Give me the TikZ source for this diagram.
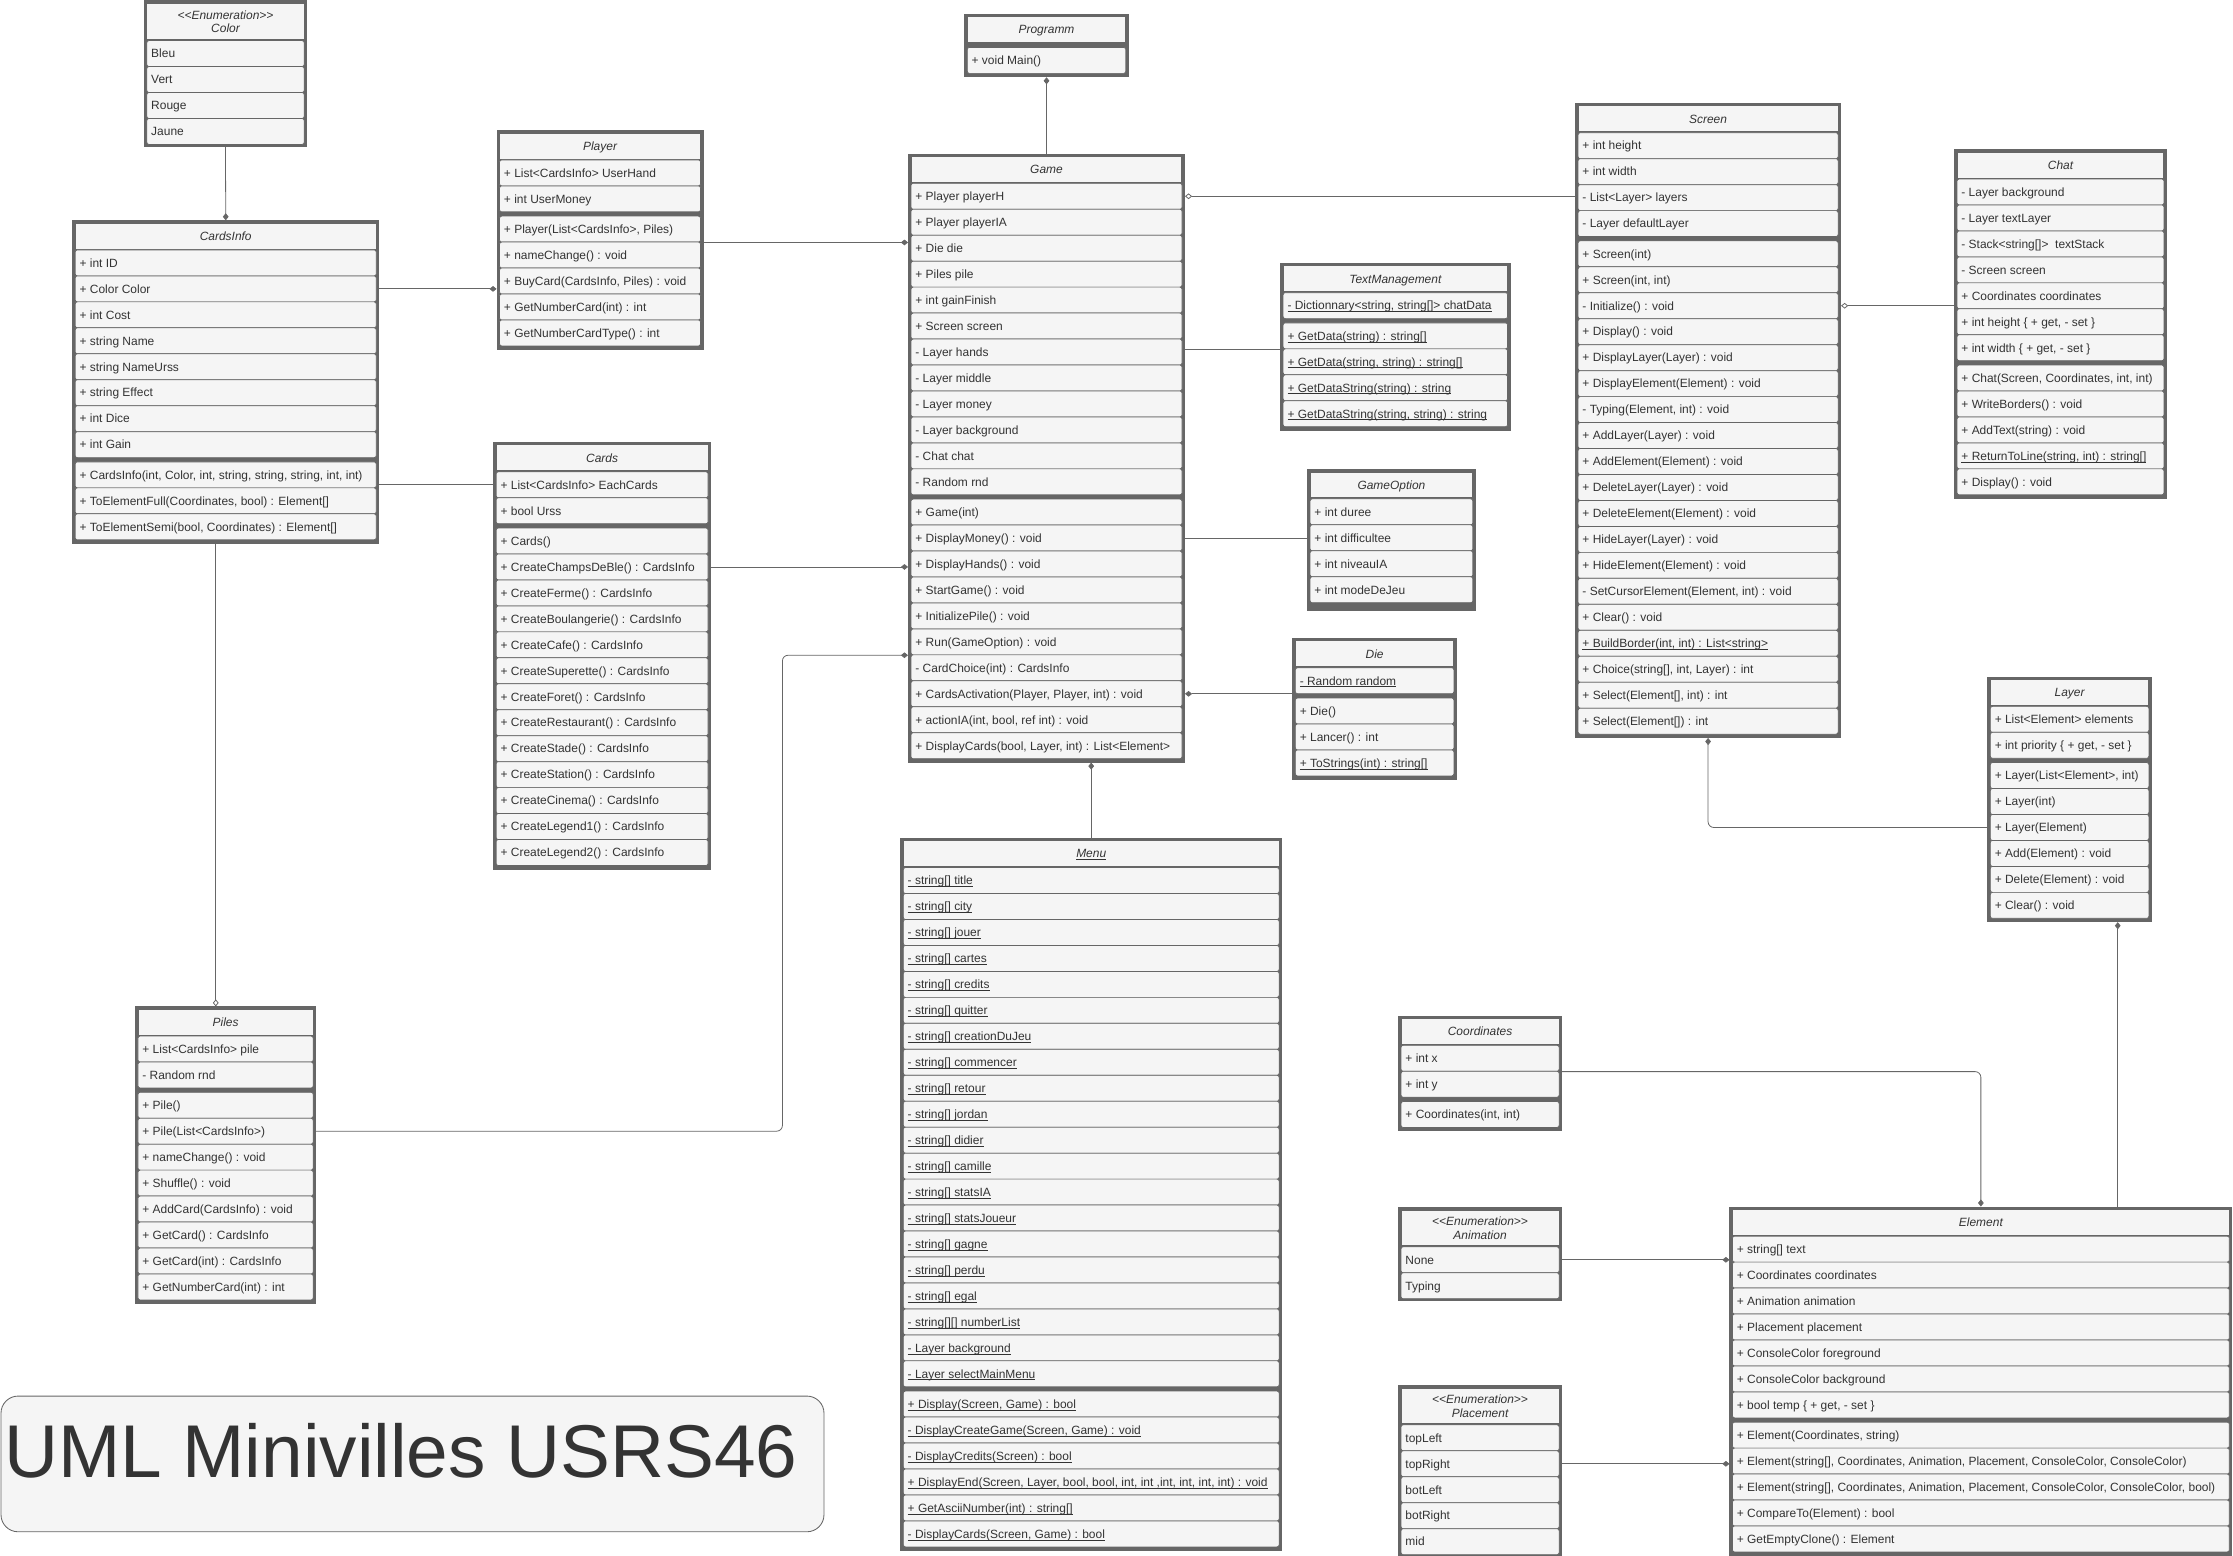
\documentclass[tikz,border=0pt]{standalone}
\usepackage{fontspec}
\setmainfont{Liberation Sans}
\usepackage{tikz}
\usetikzlibrary{arrows.meta}

\definecolor{umlgray}{HTML}{666666}
\definecolor{umlfill}{HTML}{F5F5F5}
\definecolor{umltext}{HTML}{333333}

\newcommand\umlfont{\fontsize{8.4}{9.6}\selectfont}
\newsavebox\statbox
\newcommand\stat[1]{\sbox\statbox{#1}\rlap{\rule[-1.4pt]{\wd\statbox}{0.45pt}}\usebox\statbox}
\newcommand\stereo[1]{<\kern0pt<#1>\kern0pt>}

\newcommand\umlclass[7]{%
  \pgfmathsetmacro\cx{#2+#4/2}%
  \pgfmathsetmacro\tw{#4-9.8}%
  \gdef\na{0}\gdef\nm{0}%
  \if\relax\detokenize{#6}\relax\else\foreach \rowtext [count=\i] in {#6} {\xdef\na{\i}}\fi
  \if\relax\detokenize{#7}\relax\else\foreach \rowtext [count=\i] in {#7} {\xdef\nm{\i}}\fi
  \pgfmathsetmacro\hb{25.9+(\na+\nm)*18.23}%
  \node[classbox, minimum width=#4, minimum height=\hb] (#1) at (\cx, {#3+\hb/2}) {};
  \node[headbox, minimum width=#4-4.4, minimum height=17.5, text height=6pt, text depth=0pt] (#1-h) at (\cx, {#3+10.75}) {#5};
  \if\relax\detokenize{#6}\relax\else
  \foreach \rowtext [count=\i] in {#6} {
    \node[rowbox, minimum width=#4-3.6] (#1-a\i) at (\cx, {#3+20.5+(\i-0.5)*18.23}) {\makebox[\tw pt][l]{\rowtext}};
  }\fi
  \if\relax\detokenize{#7}\relax\else
  \foreach \rowtext [count=\i] in {#7} {
    \node[rowbox, minimum width=#4-3.6] (#1-m\i) at (\cx, {#3+23.5+(\na+\i-0.5)*18.23}) {\makebox[\tw pt][l]{\rowtext}};
  }\fi
}

\newcommand\umlenum[6]{%
  \pgfmathsetmacro\cx{#2+#4/2}%
  \pgfmathsetmacro\tw{#4-9.8}%
  \foreach \rowtext [count=\i] in {#6} {\xdef\na{\i}}%
  \pgfmathsetmacro\hb{29.5+\na*18.23}%
  \node[classbox, minimum width=#4, minimum height=\hb] (#1) at (\cx, {#3+\hb/2}) {};
  \node[headbox, minimum width=#4-4.4, minimum height=24.5, align=center, text depth=0pt] (#1-h) at (\cx, {#3+14.8}) {\stereo{Enumeration}\\#5};
  \foreach \rowtext [count=\i] in {#6} {
    \node[rowbox, minimum width=#4-3.6] (#1-\i) at (\cx, {#3+28+(\i-0.5)*18.23}) {\makebox[\tw pt][l]{\rowtext}};
  }
}

\begin{document}
\begin{tikzpicture}[x=1pt, y=-1pt, font=\umlfont,
  classbox/.style={draw=umlgray, fill=umlgray, line width=0.6pt, inner sep=0pt},
  headbox/.style={fill=umlfill, inner sep=0pt, text=umltext, font=\umlfont\itshape},
  rowbox/.style={draw=umlgray, fill=umlfill, line width=0.5pt, rounded corners=1.5pt, minimum height=18.23pt, inner xsep=3.1pt, inner ysep=0pt, text height=6pt, text depth=0pt, text=umltext},
  titlebox/.style={draw=umlgray, fill=umlfill, line width=0.6pt, rounded corners=12pt},
  assoc/.style={draw=umlgray, line width=0.55pt},
  comp start/.style={{Diamond[length=5pt,width=4pt]}-},
  comp end/.style={-{Diamond[length=5pt,width=4pt]}},
  aggr start/.style={{Diamond[length=5pt,width=4pt,fill=white]}-},
  aggr end/.style={-{Diamond[length=5pt,width=4pt,fill=white]}}]
	\useasboundingbox (0,0) rectangle (1568,1092.6);
	\umlenum{color}{101.3}{0.5}{114.1}{Color}{Bleu,Vert,Rouge,Jaune}
	\umlclass{cardsinfo}{51}{155}{215}{CardsInfo}
	  {{+ int ID},{+ Color Color},{+ int Cost},{+ string Name},{+ string NameUrss},{+ string Effect},{+ int Dice},{+ int Gain}}
	  {{+ CardsInfo(int, Color, int, string, string, string, int, int)},{+ ToElementFull(Coordinates, bool) : Element[]},{+ ToElementSemi(bool, Coordinates) : Element[]}}
	\umlclass{player}{349}{91.8}{144.7}{Player}
	  {{+ List<CardsInfo> UserHand},{+ int UserMoney}}
	  {{+ Player(List<CardsInfo>, Piles)},{+ nameChange() : void},{+ BuyCard(CardsInfo, Piles) : void},{+ GetNumberCard(int) : int},{+ GetNumberCardType() : int}}
	\umlclass{cards}{346.6}{310.8}{152.4}{Cards}
	  {{+ List<CardsInfo> EachCards},{+ bool Urss}}
	  {{+ Cards()},{+ CreateChampsDeBle() : CardsInfo},{+ CreateFerme() : CardsInfo},{+ CreateBoulangerie() : CardsInfo},{+ CreateCafe() : CardsInfo},{+ CreateSuperette() : CardsInfo},{+ CreateForet() : CardsInfo},{+ CreateRestaurant() : CardsInfo},{+ CreateStade() : CardsInfo},{+ CreateStation() : CardsInfo},{+ CreateCinema() : CardsInfo},{+ CreateLegend1() : CardsInfo},{+ CreateLegend2() : CardsInfo}}
	\umlclass{piles}{95.1}{707}{126.6}{Piles}
	  {{+ List<CardsInfo> pile},{- Random rnd}}
	  {{+ Pile()},{+ Pile(List<CardsInfo>)},{+ nameChange() : void},{+ Shuffle() : void},{+ AddCard(CardsInfo) : void},{+ GetCard() : CardsInfo},{+ GetCard(int) : CardsInfo},{+ GetNumberCard(int) : int}}
	\umlclass{programm}{677.4}{9.8}{114.9}{Programm}{}{{+ void Main()}}
	\umlclass{game}{637.9}{108.2}{193.9}{Game}
	  {{+ Player playerH},{+ Player playerIA},{+ Die die},{+ Piles pile},{+ int gainFinish},{+ Screen screen},{- Layer hands},{- Layer middle},{- Layer money},{- Layer background},{- Chat chat},{- Random rnd}}
	  {{+ Game(int)},{+ DisplayMoney() : void},{+ DisplayHands() : void},{+ StartGame() : void},{+ InitializePile() : void},{+ Run(GameOption) : void},{- CardChoice(int) : CardsInfo},{+ CardsActivation(Player, Player, int) : void},{+ actionIA(int, bool, ref int) : void},{+ DisplayCards(bool, Layer, int) : List<Element>}}
	\umlclass{menu}{632.5}{588.7}{267.5}{\stat{Menu}}
	  {{\stat{- string[] title}},{\stat{- string[] city}},{\stat{- string[] jouer}},{\stat{- string[] cartes}},{\stat{- string[] credits}},{\stat{- string[] quitter}},{\stat{- string[] creationDuJeu}},{\stat{- string[] commencer}},{\stat{- string[] retour}},{\stat{- string[] jordan}},{\stat{- string[] didier}},{\stat{- string[] camille}},{\stat{- string[] statsIA}},{\stat{- string[] statsJoueur}},{\stat{- string[] gagne}},{\stat{- string[] perdu}},{\stat{- string[] egal}},{\stat{- string[][] numberList}},{\stat{- Layer background}},{\stat{- Layer selectMainMenu}}}
	  {{\stat{+ Display(Screen, Game) : bool}},{\stat{- DisplayCreateGame(Screen, Game) : void}},{\stat{- DisplayCredits(Screen) : bool}},{\stat{+ DisplayEnd(Screen, Layer, bool, bool, int, int ,int, int, int, int) : void}},{\stat{+ GetAsciiNumber(int) : string[]}},{\stat{- DisplayCards(Screen, Game) : bool}}}
	\umlclass{textmgmt}{899.2}{185}{161.2}{TextManagement}
	  {{\stat{- Dictionnary<string, string[]> chatData}}}
	  {{\stat{+ GetData(string) : string[]}},{\stat{+ GetData(string, string) : string[]}},{\stat{+ GetDataString(string) : string}},{\stat{+ GetDataString(string, string) : string}}}
	\umlclass{gameopt}{918.1}{329.8}{117.9}{GameOption}
	  {{+ int duree},{+ int difficultee},{+ int niveauIA},{+ int modeDeJeu}}{}
	\umlclass{die}{907.8}{448.4}{114.9}{Die}
	  {{\stat{- Random random}}}
	  {{+ Die()},{+ Lancer() : int},{\stat{+ ToStrings(int) : string[]}}}
	\umlclass{screen}{1106.3}{72.7}{186.2}{Screen}
	  {{+ int height},{+ int width},{- List<Layer> layers},{- Layer defaultLayer}}
	  {{+ Screen(int)},{+ Screen(int, int)},{- Initialize() : void},{+ Display() : void},{+ DisplayLayer(Layer) : void},{+ DisplayElement(Element) : void},{- Typing(Element, int) : void},{+ AddLayer(Layer) : void},{+ AddElement(Element) : void},{+ DeleteLayer(Layer) : void},{+ DeleteElement(Element) : void},{+ HideLayer(Layer) : void},{+ HideElement(Element) : void},{- SetCursorElement(Element, int) : void},{+ Clear() : void},{\stat{+ BuildBorder(int, int) : List<string>}},{+ Choice(string[], int, Layer) : int},{+ Select(Element[], int) : int},{+ Select(Element[]) : int}}
	\umlclass{chat}{1372.4}{105.2}{148.9}{Chat}
	  {{- Layer background},{- Layer textLayer},{- Stack<string[]>\ \ textStack},{- Screen screen},{+ Coordinates coordinates},{+ int height \{ + get, - set \}},{+ int width \{ + get, - set \}}}
	  {{+ Chat(Screen, Coordinates, int, int)},{+ WriteBorders() : void},{+ AddText(string) : void},{\stat{+ ReturnToLine(string, int) : string[]}},{+ Display() : void}}
	\umlclass{layer}{1395.8}{475.5}{114.9}{Layer}
	  {{+ List<Element> elements},{+ int priority \{ + get, - set \}}}
	  {{+ Layer(List<Element>, int)},{+ Layer(int)},{+ Layer(Element)},{+ Add(Element) : void},{+ Delete(Element) : void},{+ Clear() : void}}
	\umlclass{coords}{982}{713.5}{114.6}{Coordinates}
	  {{+ int x},{+ int y}}
	  {{+ Coordinates(int, int)}}
	\umlenum{anim}{982}{847.5}{114.6}{Animation}{None,Typing}
	\umlenum{place}{982}{972.5}{114.6}{Placement}{topLeft,topRight,botLeft,botRight,mid}
	\umlclass{element}{1214.7}{847.5}{352.5}{Element}
	  {{+ string[] text},{+ Coordinates coordinates},{+ Animation animation},{+ Placement placement},{+ ConsoleColor foreground},{+ ConsoleColor background},{+ bool temp \{ + get, - set \}}}
	  {{+ Element(Coordinates, string)},{+ Element(string[], Coordinates, Animation, Placement, ConsoleColor, ConsoleColor)},{+ Element(string[], Coordinates, Animation, Placement, ConsoleColor, ConsoleColor, bool)},{+ CompareTo(Element) : bool},{+ GetEmptyClone() : Element}}
	\node[titlebox, minimum width=577.9, minimum height=95.3] (titlebox) at (289.65,1027.95) {};
	\node[anchor=base west, inner sep=0pt, text=umltext, font=\fontsize{52.5}{60}\selectfont] (title) at (2.7,1037.6) {UML Minivilles USRS46};
	\coordinate (pbend) at (549.4,600);
	\draw[assoc, comp end] (color.south) -- (cardsinfo.north);
	\draw[assoc, comp end] (cardsinfo-a2.east -| cardsinfo.east) -- (cardsinfo-a2.east -| player.west);
	\draw[assoc] (cards-a1.west -| cards.west) -- (cards-a1.west -| cardsinfo.east);
	\draw[assoc, aggr end] ([xshift=-7pt]cardsinfo.south) -- ([xshift=-7pt]cardsinfo.south |- piles.north);
	\draw[assoc, comp end] (player-m1.south -| player.east) -- (player-m1.south -| game.west);
	\draw[assoc, comp end] (cards-m2.east -| cards.east) -- (cards-m2.east -| game.west);
	\draw[assoc, comp end, rounded corners=4pt] (piles-m2.east -| piles.east) -| (pbend) |- (game-m6.south -| game.west);
	\draw[assoc, comp start] (programm.south) -- (game.north);
	\draw[assoc, aggr start] (game-a1.east -| game.east) -- (game-a1.east -| screen.west);
	\draw[assoc] (textmgmt-m1.south -| textmgmt.west) -- (textmgmt-m1.south -| game.east);
	\draw[assoc] (game-m2.east -| game.east) -- (game-m2.east -| gameopt.west);
	\draw[assoc, comp start] (game-m8.east -| game.east) -- (game-m8.east -| die.west);
	\draw[assoc, comp start] (game.south -| menu.north) -- (menu.north);
	\draw[assoc, aggr start] (screen-m3.east -| screen.east) -- (screen-m3.east -| chat.west);
	\draw[assoc, comp start, rounded corners=4pt] (screen.south) |- (layer-m3.west -| layer.west);
	\draw[assoc, comp start] ([xshift=33.8pt]layer.south) -- ([xshift=33.8pt]layer.south |- element.north);
	\draw[assoc, comp end, rounded corners=4pt] (coords-a1.south -| coords.east) -| (element.north);
	\draw[assoc, comp end] (anim-1.east -| anim.east) -- (anim-1.east -| element.west);
	\draw[assoc, comp end] (place-2.east -| place.east) -- (place-2.east -| element.west);
\end{tikzpicture}
\end{document}
